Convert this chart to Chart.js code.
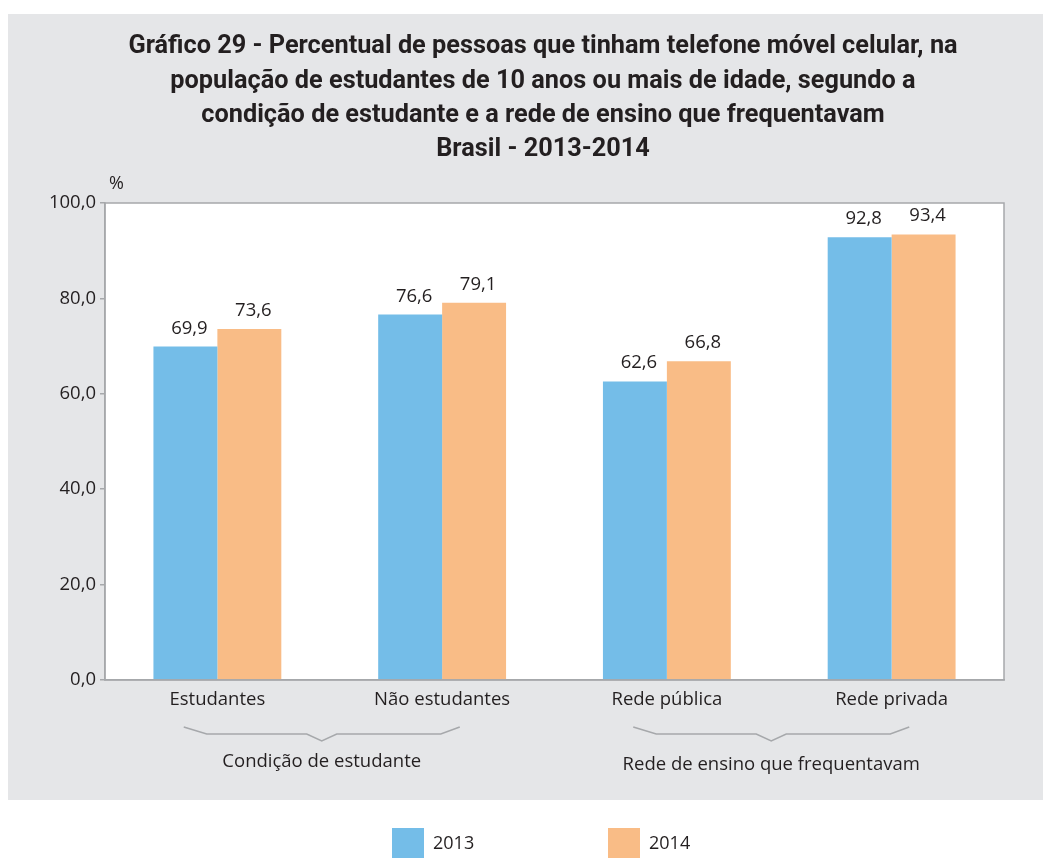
<!DOCTYPE html>
<html><head><meta charset="utf-8">
<script src="https://cdn.jsdelivr.net/npm/chart.js@4"></script>
<style>html,body{margin:0;padding:0;background:#fff}#wrap{width:1051px;height:858px}</style>
</head><body><div id="wrap"><canvas id="c" width="1051" height="858"></canvas></div>
<script>
const categories = ["Estudantes", "Não estudantes", "Rede pública", "Rede privada"];
const series2013 = [69.9, 76.6, 62.6, 92.8];
const series2014 = [73.6, 79.1, 66.8, 93.4];
const seriesLabels = ["2013", "2014"];
const yTickValues = [0, 20, 40, 60, 80, 100];
const groupLabels = ["Condição de estudante", "Rede de ensino que frequentavam"];
const groupMembers = [[0, 1], [2, 3]];
const titleLines = [
  "Gráfico 29 - Percentual de pessoas que tinham telefone móvel celular, na",
  "população de estudantes de 10 anos ou mais de idade, segundo a",
  "condição de estudante e a rede de ensino que frequentavam",
  "Brasil - 2013-2014"
];
const unitLabel = "%";

const BLUE = "#74BDE8", ORANGE = "#F9BC86", PANEL = "#E5E6E8", AXIS = "#A6A8AB", TEXT = "#231F20";
const FONT = "'Open Sans', 'Liberation Sans', sans-serif";
const TFONT = "'Roboto', 'Liberation Sans', sans-serif";
const fmt = v => v.toFixed(1).replace('.', ',');

const decor = {
  id: 'decor',
  beforeDraw(chart) {
    const ctx = chart.ctx, a = chart.chartArea;
    ctx.save();
    ctx.fillStyle = '#fff'; ctx.fillRect(0, 0, chart.width, chart.height);
    ctx.fillStyle = PANEL; ctx.fillRect(8, 14, 1035, 786);
    ctx.fillStyle = '#fff'; ctx.fillRect(a.left, a.top, a.right - a.left, a.bottom - a.top);
    ctx.restore();
  },
  afterDraw(chart) {
    const ctx = chart.ctx, a = chart.chartArea, xs = chart.scales.x;
    ctx.save();
    // frame
    ctx.strokeStyle = AXIS; ctx.lineWidth = 1.5;
    ctx.strokeRect(a.left, a.top, a.right - a.left, a.bottom - a.top);
    // title
    ctx.fillStyle = TEXT; ctx.textAlign = 'center'; ctx.textBaseline = 'middle';
    ctx.font = "bold 25.3px " + TFONT;
    titleLines.forEach((t, i) => ctx.fillText(t, 543, 47 + i * 34.3));
    // unit
    ctx.font = "18px " + FONT; ctx.textAlign = 'left';
    ctx.fillText(unitLabel, a.left + 4, 184);
    // value labels
    ctx.font = "18.5px " + FONT; ctx.textAlign = 'center'; ctx.textBaseline = 'alphabetic';
    chart.data.datasets.forEach((ds, di) => {
      chart.getDatasetMeta(di).data.forEach((bar, i) => {
        ctx.fillText(fmt(ds.data[i]), bar.x + 4, bar.y - 13);
      });
    });
    // group brackets
    ctx.strokeStyle = AXIS; ctx.lineWidth = 1.5;
    groupMembers.forEach((m, gi) => {
      const c = (xs.getPixelForValue(m[0]) + xs.getPixelForValue(m[m.length - 1])) / 2 - 8;
      ctx.beginPath();
      ctx.moveTo(c - 138, 727); ctx.lineTo(c - 115, 734); ctx.lineTo(c - 15, 734);
      ctx.lineTo(c, 741); ctx.lineTo(c + 15, 734); ctx.lineTo(c + 119, 734); ctx.lineTo(c + 138, 727);
      ctx.stroke();
      ctx.fillStyle = TEXT; ctx.font = "18.5px " + FONT; ctx.textBaseline = 'middle';
      ctx.fillText(groupLabels[gi], c, 762 + gi * 3);
    });
    // legend
    ctx.textAlign = 'left'; ctx.textBaseline = 'middle'; ctx.font = "18px " + FONT;
    chart.data.datasets.forEach((ds, di) => {
      const x = 392 + di * 216;
      ctx.fillStyle = ds.backgroundColor; ctx.fillRect(x, 828, 32, 30);
      ctx.fillStyle = TEXT; ctx.fillText(ds.label, x + 41, 844);
    });
    ctx.restore();
  }
};

new Chart(document.getElementById('c'), {
  type: 'bar',
  data: {
    labels: categories,
    datasets: [
      { label: seriesLabels[0], data: series2013, backgroundColor: BLUE },
      { label: seriesLabels[1], data: series2014, backgroundColor: ORANGE }
    ]
  },
  options: {
    responsive: false, animation: false, devicePixelRatio: 1,
    layout: { padding: { top: 203, right: 47, left: 0, bottom: 0 } },
    plugins: { legend: { display: false }, title: { display: false }, tooltip: { enabled: false } },
    datasets: { bar: { barPercentage: 1, categoryPercentage: 0.569 } },
    scales: {
      x: {
        grid: { display: false },
        border: { display: true, color: AXIS, width: 1.5 },
        ticks: { color: TEXT, font: { family: FONT, size: 18.5 }, padding: 1, maxRotation: 0 },
        afterFit(s) { s.height = 178; }
      },
      y: {
        min: 0, max: 100,
        afterBuildTicks(s) { s.ticks = yTickValues.map(v => ({ value: v })); },
        grid: { display: true, drawOnChartArea: false, tickLength: 5, color: AXIS, lineWidth: 1.5 },
        border: { display: true, color: AXIS, width: 1.5 },
        ticks: { color: TEXT, font: { family: FONT, size: 18.5 }, padding: 4, callback: v => fmt(v) },
        afterFit(s) { s.width = 105; }
      }
    }
  },
  plugins: [decor]
});
</script></body></html>
